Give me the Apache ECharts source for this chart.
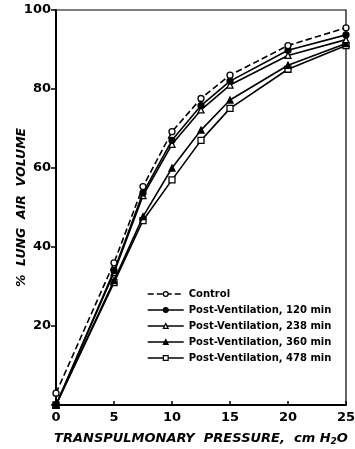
<!DOCTYPE html>
<html><head><meta charset="utf-8">
<script src="https://cdn.jsdelivr.net/npm/echarts@6/dist/echarts.min.js"></script>
<style>html,body{margin:0;padding:0;background:#fff}#c{width:355px;height:449px}</style>
</head><body><div id="c"></div>
<script>
const pressures = [0, 5, 7.5, 10, 12.5, 15, 20, 25];
const control   = [3, 36, 55.3, 69.2, 77.6, 83.5, 91, 95.5];
const post120   = [0, 34, 53.7, 67, 75.8, 82, 89.8, 93.7];
const post238   = [0, 33.5, 53, 66, 74.7, 81, 88.5, 92.5];
const post360   = [0, 31.5, 47.7, 60, 69.6, 77.2, 86, 91.5];
const post478   = [0, 31, 46.7, 57, 67, 75.1, 85, 91];
const seriesNames = ['Control', 'Post-Ventilation, 120 min', 'Post-Ventilation, 238 min', 'Post-Ventilation, 360 min', 'Post-Ventilation, 478 min'];
const xTicks = [0, 5, 10, 15, 20, 25];
const yTicks = [20, 40, 60, 80, 100];

const font = 'DejaVu Sans';
function pairs(v){ return pressures.map((x,i)=>[x, v[i]]); }
const styles = [
  {symbol:'circle', fill:'#fff', type:'dashed'},
  {symbol:'circle', fill:'#000', type:'solid'},
  {symbol:'triangle', fill:'#fff', type:'solid'},
  {symbol:'triangle', fill:'#000', type:'solid'},
  {symbol:'rect', fill:'#fff', type:'solid'}
];
const vals = [control, post120, post238, post360, post478];
const series = vals.map((v,i)=>({
  name: seriesNames[i], type:'line', data: pairs(v),
  symbol: styles[i].symbol, symbolSize: 6,
  itemStyle:{color: styles[i].fill, borderColor:'#000', borderWidth:1.3},
  lineStyle:{color:'#000', width:1.6, type: styles[i].type},
  z: 5 - i
}));
const legendData = seriesNames.map((n,i)=>({
  name:n,
  itemStyle:{color: styles[i].fill, borderColor:'#000', borderWidth:1.2},
  lineStyle:{color:'#000', width:1.5, type: styles[i].type}
}));

const chart = echarts.init(document.getElementById('c'), null, {renderer:'canvas'});
chart.setOption({
  animation:false,
  backgroundColor:'#fff',
  grid:{left:56, right:9, top:10, bottom:44, show:true, borderColor:'#000', borderWidth:1.2,
        containLabel:false, outerBoundsMode:'none'},
  legend:{
    orient:'vertical', left:142, top:284, itemWidth:36, itemHeight:6, itemGap:6,
    data: legendData,
    textStyle:{fontFamily:font, fontWeight:'bold', fontSize:10, color:'#000'}
  },
  xAxis:{
    type:'value', min:0, max:25, interval:5,
    axisLine:{lineStyle:{color:'#000', width:2}},
    axisTick:{inside:true, length:4, lineStyle:{color:'#000', width:1.5}},
    splitLine:{show:false},
    axisLabel:{fontFamily:font, fontWeight:'bold', fontSize:13, color:'#000', margin:6,
      formatter: v => xTicks.includes(v) ? String(v) : ''},
    name:'TRANSPULMONARY  PRESSURE,  cm H{sub|2}O', nameLocation:'middle', nameGap:26,
    nameMoveOverlap:false,
    nameTextStyle:{fontFamily:font, fontStyle:'italic', fontWeight:'bold', fontSize:13, color:'#000',
      rich:{sub:{fontFamily:font, fontStyle:'italic', fontWeight:'bold', fontSize:9, verticalAlign:'bottom', padding:[6,0,0,0]}}}
  },
  yAxis:{
    type:'value', min:0, max:100, interval:20,
    axisLine:{show:true, lineStyle:{color:'#000', width:2}},
    axisTick:{show:true, inside:false, length:5, lineStyle:{color:'#000', width:1.5}},
    splitLine:{show:false},
    axisLabel:{fontFamily:font, fontWeight:'bold', fontSize:13, color:'#000', margin:5,
      formatter: v => yTicks.includes(v) ? String(v) : ''},
    name:'%  LUNG  AIR  VOLUME', nameLocation:'middle', nameGap:28,
    nameMoveOverlap:false,
    nameTextStyle:{fontFamily:font, fontStyle:'italic', fontWeight:'bold', fontSize:12.5, color:'#000'}
  },
  series: series
});
</script>
</body></html>
